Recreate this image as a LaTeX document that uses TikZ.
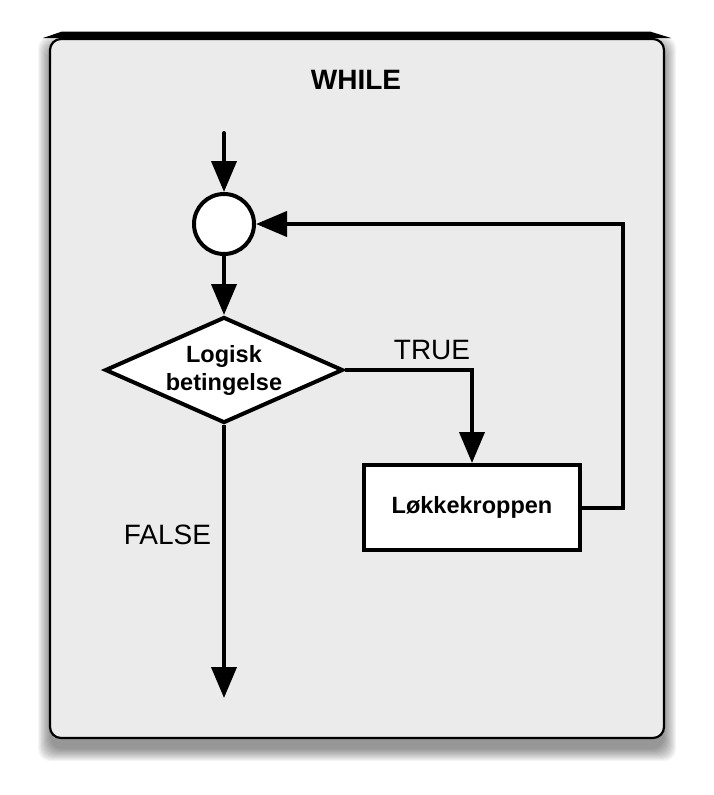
\documentclass[tikz,border=0pt]{standalone}
\usepackage{fontspec}
\setmainfont{Liberation Sans}
\usetikzlibrary{shapes.geometric,arrows.meta}
\definecolor{panel}{HTML}{EBEBEB}
\begin{document}
\begin{tikzpicture}[x=1pt,y=-1pt,
  conn/.style={line width=4pt,-{Triangle[length=31pt,width=25pt]}},
  thick4/.style={draw,line width=4pt,fill=white},
  bigtext/.style={inner sep=0pt,font=\fontsize{28}{33}\selectfont},
  boldtext/.style={font=\fontsize{23.5}{28}\selectfont\bfseries}]
\useasboundingbox (0,0) rectangle (713,795);
% shadow
\foreach \i in {0,...,12} {
  \fill[black,opacity=0.04,rounded corners=12pt] ({50-\i},{48-\i}) rectangle ({664+\i},{749+\i});
}
% top bar
\fill[black] (43,38) -- (62,31.5) -- (650,31.5) -- (671,38) -- cycle;
% panel
\draw[line width=2.2pt,fill=panel,rounded corners=11pt] (50,39) rectangle (664,738);
% title
\node[bigtext,font=\fontsize{28}{33}\selectfont\bfseries] (title) at (356,80) {WHILE};
% nodes
\coordinate (start) at (224,133);
\node[thick4,circle,minimum size=60pt,inner sep=0pt] (c) at (224,224) {};
\node[thick4,diamond,shape aspect=2.25,minimum width=238pt,minimum height=106pt,inner sep=0pt,align=center,boldtext] (d) at (224,370) {Logisk\\betingelse};
\node[thick4,rectangle,minimum width=216pt,minimum height=85pt,boldtext] (b) at (472,507.5) {Løkkekroppen};
\coordinate (fend) at (224,698);
\coordinate (rx) at (623,0);
% connectors
\draw[conn,line cap=round] (start) -- (c.north);
\draw[conn] (c.south) -- (d.north);
\draw[conn] (d.east) -| (b.north);
\draw[conn] (d.south) -- (fend);
\draw[conn] (b.east) -- (b.east -| rx) -- (c.east -| rx) -- (c.east);
% labels
\node[bigtext] (true) at (432,350.5) {TRUE};
\node[bigtext] (false) at (167.5,535) {FALSE};
\end{tikzpicture}
\end{document}
